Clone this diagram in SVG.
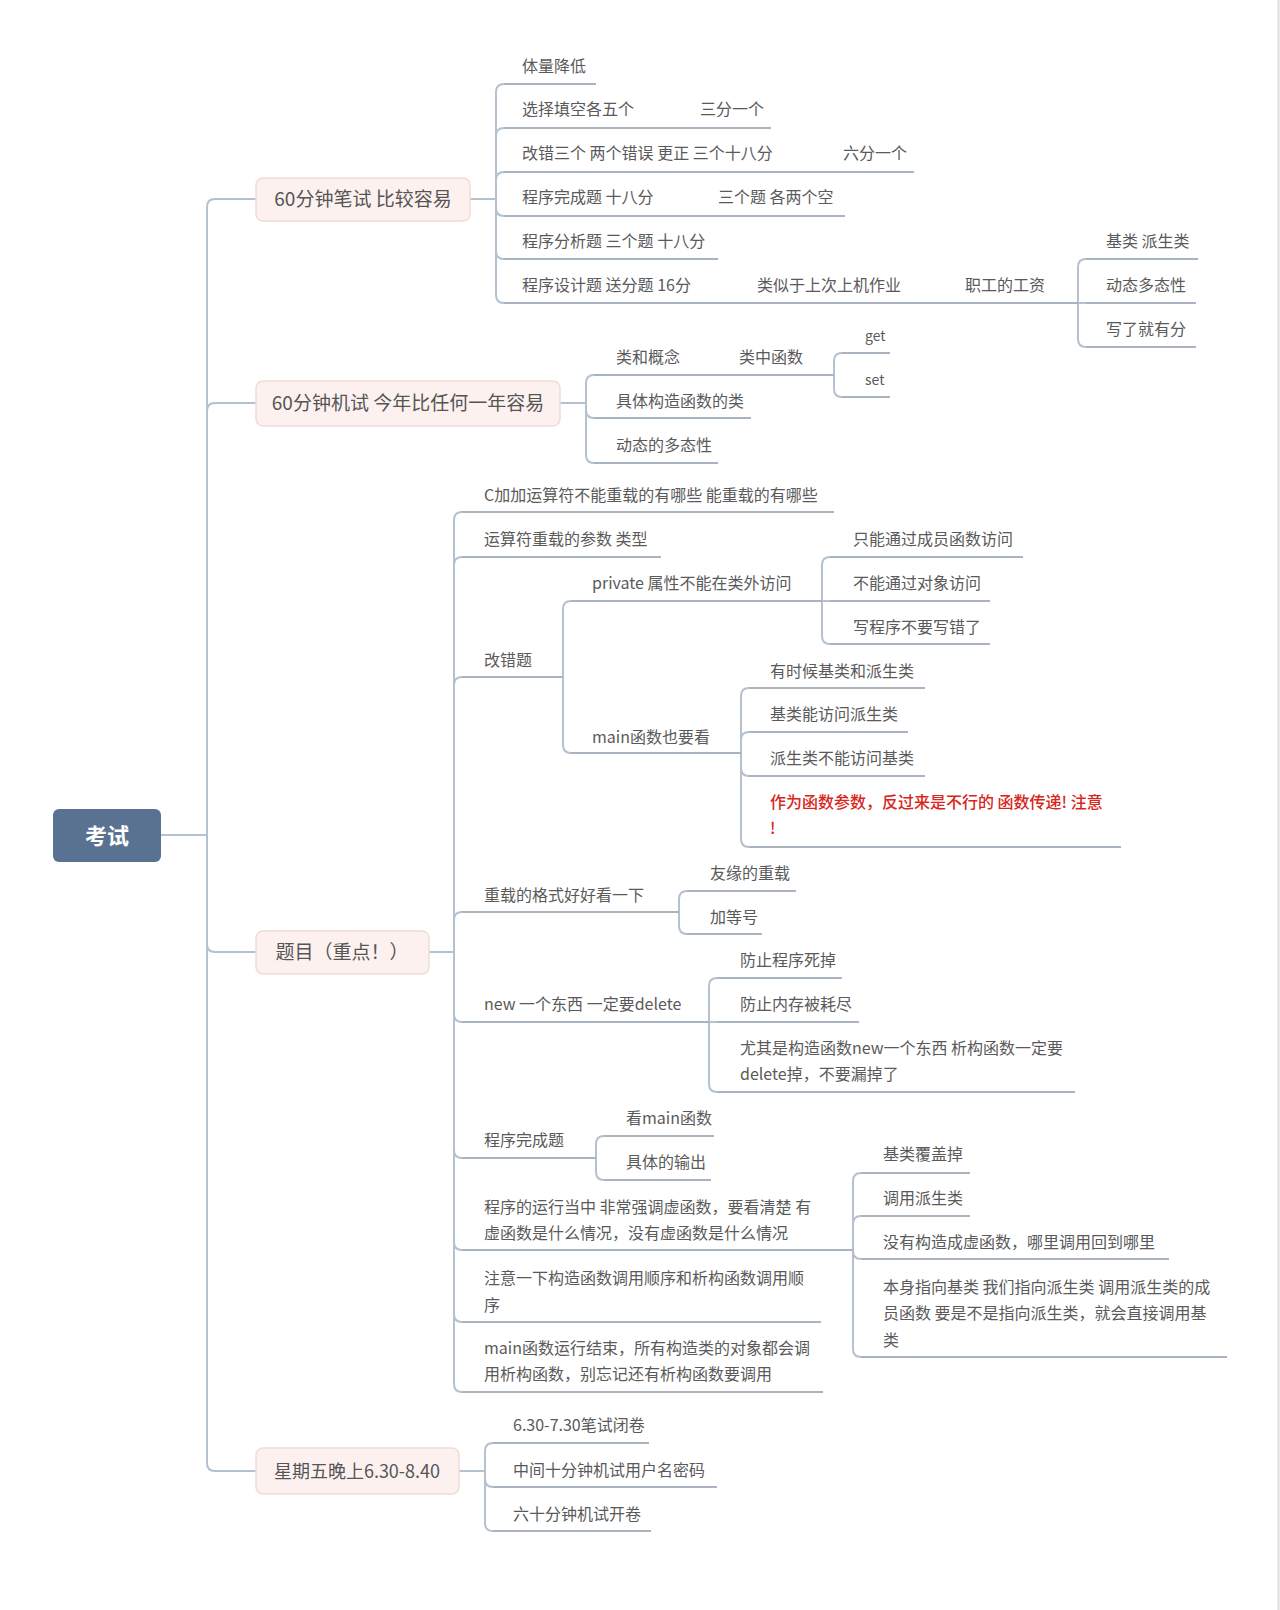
<svg xmlns="http://www.w3.org/2000/svg" width="1280" height="1610" viewBox="0 0 1280 1610">
  <style>
    .t { font-family: "Noto Sans CJK SC", "Noto Sans", sans-serif; font-size: 16px; fill: #5a5a5a; dominant-baseline: central; transform: translateY(-1.5px); }
    .s { font-size: 14px; }
    .red { fill: #d8261c; font-weight: 500; }
    .bt { font-family: "Noto Sans CJK SC", "Noto Sans", sans-serif; font-size: 19px; fill: #555; dominant-baseline: central; text-anchor: middle; transform: translateY(-1.5px); }
    .bt4 { font-size: 18px; }
    .rt { font-family: "Noto Sans CJK SC", "Noto Sans", sans-serif; font-size: 22px; font-weight: bold; fill: #fff; dominant-baseline: central; text-anchor: middle; }
    .box { fill: #fdf1f0; stroke: #efdcd9; stroke-width: 1.5; }
    .ul { stroke: #a9b4c0; stroke-width: 2; fill: none; }
    .c { stroke: #b3c1d0; stroke-width: 2; fill: none; }
  </style>

  <rect width="1280" height="1610" fill="#fff"/>
  <line x1="1278.5" y1="0" x2="1278.5" y2="1610" stroke="#dcdcdc" stroke-width="2"/>

  <!-- connectors -->
  <g id="connectors">
    <!-- root trunk -->
    <path class="c" d="M160 835 H207"/>
    <path class="c" d="M207 835 V207 Q207 199 215 199 H256"/>
    <path class="c" d="M207 835 V411 Q207 403 215 403 H256"/>
    <path class="c" d="M207 835 V944 Q207 952 215 952 H256"/>
    <path class="c" d="M207 835 V1463 Q207 1471 215 1471 H256"/>

    <!-- branch 1 -->
    <path class="c" d="M470 199 H496"/>
    <path class="c" d="M496 199 V92 Q496 84 504 84"/>
    <path class="c" d="M496 199 V136 Q496 128 504 128"/>
    <path class="c" d="M496 199 V180 Q496 172 504 172"/>
    <path class="c" d="M496 199 V208 Q496 216 504 216"/>
    <path class="c" d="M496 199 V251 Q496 259 504 259"/>
    <path class="c" d="M496 199 V295 Q496 303 504 303"/>
    <path class="c" d="M1078 303 V267 Q1078 259 1086 259"/>
    <path class="c" d="M1078 303 H1086"/>
    <path class="c" d="M1078 303 V339 Q1078 347 1086 347"/>

    <!-- branch 2 -->
    <path class="c" d="M560 403 H586"/>
    <path class="c" d="M586 403 V383 Q586 375 594 375"/>
    <path class="c" d="M586 403 V410 Q586 418 594 418"/>
    <path class="c" d="M586 403 V455 Q586 463 594 463"/>
    <path class="c" d="M834 375 V361 Q834 353 842 353"/>
    <path class="c" d="M834 375 V389 Q834 397 842 397"/>

    <!-- branch 3 -->
    <path class="c" d="M429 952 H454"/>
    <path class="c" d="M454 952 V520 Q454 512 462 512"/>
    <path class="c" d="M454 952 V565 Q454 557 462 557"/>
    <path class="c" d="M454 952 V685 Q454 677 462 677"/>
    <path class="c" d="M454 952 V920 Q454 912 462 912"/>
    <path class="c" d="M454 952 V1014 Q454 1022 462 1022"/>
    <path class="c" d="M454 952 V1150 Q454 1158 462 1158"/>
    <path class="c" d="M454 952 V1242 Q454 1250 462 1250"/>
    <path class="c" d="M454 952 V1314 Q454 1322 462 1322"/>
    <path class="c" d="M454 952 V1384 Q454 1392 462 1392"/>
    <!-- 改错题 -->
    <path class="c" d="M563 677 V609 Q563 601 571 601"/>
    <path class="c" d="M563 677 V745 Q563 753 571 753"/>
    <path class="c" d="M822 601 V565 Q822 557 830 557"/>
    <path class="c" d="M822 601 H830"/>
    <path class="c" d="M822 601 V636 Q822 644 830 644"/>
    <path class="c" d="M741 753 V696 Q741 688 749 688"/>
    <path class="c" d="M741 753 V740 Q741 732 749 732"/>
    <path class="c" d="M741 753 V768 Q741 776 749 776"/>
    <path class="c" d="M741 753 V839 Q741 847 749 847"/>
    <!-- 重载的格式 -->
    <path class="c" d="M679 912 V899 Q679 891 687 891"/>
    <path class="c" d="M679 912 V926 Q679 934 687 934"/>
    <!-- new/delete -->
    <path class="c" d="M709 1022 V986 Q709 978 717 978"/>
    <path class="c" d="M709 1022 H717"/>
    <path class="c" d="M709 1022 V1084 Q709 1092 717 1092"/>
    <!-- 程序完成题 -->
    <path class="c" d="M596 1158 V1144 Q596 1136 604 1136"/>
    <path class="c" d="M596 1158 V1172 Q596 1180 604 1180"/>
    <!-- 虚函数 -->
    <path class="c" d="M853 1250 V1181 Q853 1173 861 1173"/>
    <path class="c" d="M853 1250 V1224 Q853 1216 861 1216"/>
    <path class="c" d="M853 1250 V1251 Q853 1259 861 1259"/>
    <path class="c" d="M853 1250 V1349 Q853 1357 861 1357"/>

    <!-- branch 4 -->
    <path class="c" d="M459 1471 H485"/>
    <path class="c" d="M485 1471 V1451 Q485 1443 493 1443"/>
    <path class="c" d="M485 1471 V1479 Q485 1487 493 1487"/>
    <path class="c" d="M485 1471 V1523 Q485 1531 493 1531"/>
  </g>

  <!-- root -->
  <g id="root">
    <rect x="53" y="809" width="108" height="53" rx="6" fill="#5a7292"/>
    <text class="rt" x="107" y="834">考试</text>
  </g>

  <!-- branch 1 -->
  <g id="b1">
    <rect class="box" x="256" y="178" width="214" height="43" rx="7"/>
    <text class="bt" x="363" y="199">60分钟笔试 比较容易</text>
  </g>
  <g id="b1-1"><text class="t" x="522" y="66">体量降低</text><path class="ul" d="M504 84 H596"/></g>
  <g id="b1-2"><text class="t" x="522" y="109">选择填空各五个</text><path class="ul" d="M504 128 H690"/></g>
  <g id="b1-2a"><text class="t" x="700" y="109">三分一个</text><path class="ul" d="M690 128 H771"/></g>
  <g id="b1-3"><text class="t" x="522" y="153">改错三个 两个错误 更正 三个十八分</text><path class="ul" d="M504 172 H833"/></g>
  <g id="b1-3a"><text class="t" x="843" y="153">六分一个</text><path class="ul" d="M833 172 H914"/></g>
  <g id="b1-4"><text class="t" x="522" y="197">程序完成题 十八分</text><path class="ul" d="M504 216 H708"/></g>
  <g id="b1-4a"><text class="t" x="718" y="197">三个题 各两个空</text><path class="ul" d="M708 216 H845"/></g>
  <g id="b1-5"><text class="t" x="522" y="241">程序分析题 三个题 十八分</text><path class="ul" d="M504 259 H718"/></g>
  <g id="b1-6"><text class="t" x="522" y="285">程序设计题 送分题 16分</text><path class="ul" d="M504 303 H747"/></g>
  <g id="b1-6a"><text class="t" x="757" y="285">类似于上次上机作业</text><path class="ul" d="M747 303 H955"/></g>
  <g id="b1-6b"><text class="t" x="965" y="285">职工的工资</text><path class="ul" d="M955 303 H1078"/></g>
  <g id="b1-6b-1"><text class="t" x="1106" y="241">基类 派生类</text><path class="ul" d="M1086 259 H1198"/></g>
  <g id="b1-6b-2"><text class="t" x="1106" y="285">动态多态性</text><path class="ul" d="M1086 303 H1196"/></g>
  <g id="b1-6b-3"><text class="t" x="1106" y="329">写了就有分</text><path class="ul" d="M1086 347 H1196"/></g>

  <!-- branch 2 -->
  <g id="b2">
    <rect class="box" x="256" y="381" width="304" height="45" rx="7"/>
    <text class="bt" x="408" y="403">60分钟机试 今年比任何一年容易</text>
  </g>
  <g id="b2-1"><text class="t" x="616" y="357">类和概念</text><path class="ul" d="M594 375 H729"/></g>
  <g id="b2-1a"><text class="t" x="739" y="357">类中函数</text><path class="ul" d="M729 375 H834"/></g>
  <g id="b2-1a-1"><text class="t s" x="865" y="336">get</text><path class="ul" d="M842 353 H890"/></g>
  <g id="b2-1a-2"><text class="t s" x="865" y="380">set</text><path class="ul" d="M842 397 H890"/></g>
  <g id="b2-2"><text class="t" x="616" y="401">具体构造函数的类</text><path class="ul" d="M594 418 H751"/></g>
  <g id="b2-3"><text class="t" x="616" y="445">动态的多态性</text><path class="ul" d="M594 463 H718"/></g>

  <!-- branch 3 -->
  <g id="b3">
    <rect class="box" x="256" y="931" width="173" height="43" rx="7"/>
    <text class="bt" x="342" y="952">题目（重点！）</text>
  </g>
  <g id="b3-1"><text class="t" x="484" y="495">C加加运算符不能重载的有哪些 能重载的有哪些</text><path class="ul" d="M462 512 H834"/></g>
  <g id="b3-2"><text class="t" x="484" y="539">运算符重载的参数 类型</text><path class="ul" d="M462 557 H661"/></g>
  <g id="b3-3"><text class="t" x="484" y="660">改错题</text><path class="ul" d="M462 677 H563"/></g>
  <g id="b3-3-1"><text class="t" x="592" y="583">private 属性不能在类外访问</text><path class="ul" d="M571 601 H822"/></g>
  <g id="b3-3-1-1"><text class="t" x="853" y="539">只能通过成员函数访问</text><path class="ul" d="M830 557 H1023"/></g>
  <g id="b3-3-1-2"><text class="t" x="853" y="583">不能通过对象访问</text><path class="ul" d="M830 601 H990"/></g>
  <g id="b3-3-1-3"><text class="t" x="853" y="627">写程序不要写错了</text><path class="ul" d="M830 644 H990"/></g>
  <g id="b3-3-2"><text class="t" x="592" y="737">main函数也要看</text><path class="ul" d="M571 753 H741"/></g>
  <g id="b3-3-2-1"><text class="t" x="770" y="671">有时候基类和派生类</text><path class="ul" d="M749 688 H925"/></g>
  <g id="b3-3-2-2"><text class="t" x="770" y="714">基类能访问派生类</text><path class="ul" d="M749 732 H908"/></g>
  <g id="b3-3-2-3"><text class="t" x="770" y="758">派生类不能访问基类</text><path class="ul" d="M749 776 H925"/></g>
  <g id="b3-3-2-4">
    <text class="t red" x="770" y="802">作为函数参数，反过来是不行的 函数传递! 注意</text>
    <text class="t red" x="770" y="828">!</text>
    <path class="ul" d="M749 847 H1121"/>
  </g>
  <g id="b3-4"><text class="t" x="484" y="895">重载的格式好好看一下</text><path class="ul" d="M462 912 H679"/></g>
  <g id="b3-4-1"><text class="t" x="710" y="873">友缘的重载</text><path class="ul" d="M687 891 H796"/></g>
  <g id="b3-4-2"><text class="t" x="710" y="917">加等号</text><path class="ul" d="M687 934 H762"/></g>
  <g id="b3-5"><text class="t" x="484" y="1004">new 一个东西 一定要delete</text><path class="ul" d="M462 1022 H709"/></g>
  <g id="b3-5-1"><text class="t" x="740" y="960">防止程序死掉</text><path class="ul" d="M717 978 H842"/></g>
  <g id="b3-5-2"><text class="t" x="740" y="1004">防止内存被耗尽</text><path class="ul" d="M717 1022 H859"/></g>
  <g id="b3-5-3">
    <text class="t" x="740" y="1048">尤其是构造函数new一个东西 析构函数一定要</text>
    <text class="t" x="740" y="1074">delete掉，不要漏掉了</text>
    <path class="ul" d="M717 1092 H1075"/>
  </g>
  <g id="b3-6"><text class="t" x="484" y="1140">程序完成题</text><path class="ul" d="M462 1158 H596"/></g>
  <g id="b3-6-1"><text class="t" x="626" y="1118">看main函数</text><path class="ul" d="M604 1136 H714"/></g>
  <g id="b3-6-2"><text class="t" x="626" y="1162">具体的输出</text><path class="ul" d="M604 1180 H711"/></g>
  <g id="b3-7">
    <text class="t" x="484" y="1207">程序的运行当中 非常强调虚函数，要看清楚 有</text>
    <text class="t" x="484" y="1233">虚函数是什么情况，没有虚函数是什么情况</text>
    <path class="ul" d="M462 1250 H853"/>
  </g>
  <g id="b3-7-1"><text class="t" x="883" y="1154">基类覆盖掉</text><path class="ul" d="M861 1173 H970"/></g>
  <g id="b3-7-2"><text class="t" x="883" y="1198">调用派生类</text><path class="ul" d="M861 1216 H970"/></g>
  <g id="b3-7-3"><text class="t" x="883" y="1242">没有构造成虚函数，哪里调用回到哪里</text><path class="ul" d="M861 1259 H1169"/></g>
  <g id="b3-7-4">
    <text class="t" x="883" y="1287">本身指向基类 我们指向派生类 调用派生类的成</text>
    <text class="t" x="883" y="1313">员函数 要是不是指向派生类，就会直接调用基</text>
    <text class="t" x="883" y="1340">类</text>
    <path class="ul" d="M861 1357 H1227"/>
  </g>
  <g id="b3-8">
    <text class="t" x="484" y="1278">注意一下构造函数调用顺序和析构函数调用顺</text>
    <text class="t" x="484" y="1305">序</text>
    <path class="ul" d="M462 1322 H821"/>
  </g>
  <g id="b3-9">
    <text class="t" x="484" y="1348">main函数运行结束，所有构造类的对象都会调</text>
    <text class="t" x="484" y="1374">用析构函数，别忘记还有析构函数要调用</text>
    <path class="ul" d="M462 1392 H823"/>
  </g>

  <!-- branch 4 -->
  <g id="b4">
    <rect class="box" x="256" y="1448" width="203" height="46" rx="7"/>
    <text class="bt bt4" x="357" y="1471">星期五晚上6.30-8.40</text>
  </g>
  <g id="b4-1"><text class="t" x="513" y="1425">6.30-7.30笔试闭卷</text><path class="ul" d="M493 1443 H649"/></g>
  <g id="b4-2"><text class="t" x="513" y="1470">中间十分钟机试用户名密码</text><path class="ul" d="M493 1487 H717"/></g>
  <g id="b4-3"><text class="t" x="513" y="1514">六十分钟机试开卷</text><path class="ul" d="M493 1531 H651"/></g>
</svg>
